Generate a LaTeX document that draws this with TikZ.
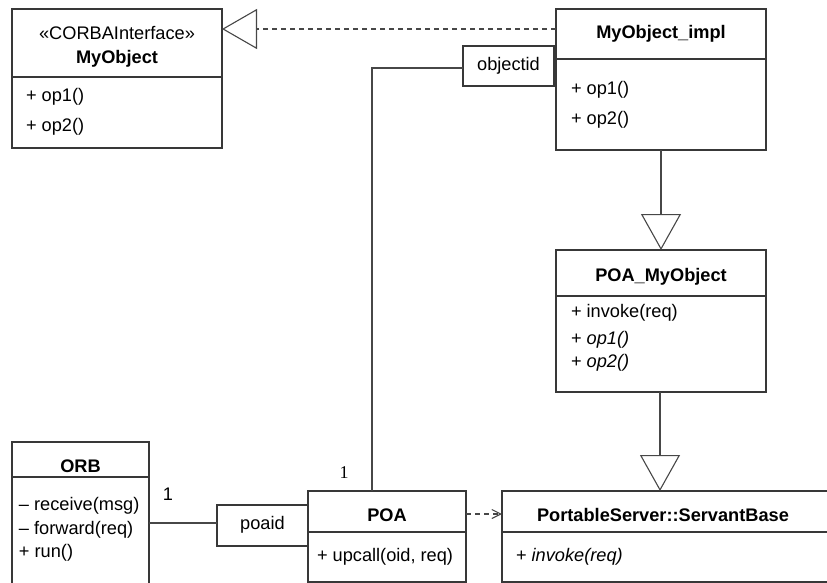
\documentclass[tikz,border=0pt]{standalone}
\usepackage{fontspec}
\setmainfont{Liberation Sans}
\newfontfamily\numfont{Liberation Serif}
\usetikzlibrary{arrows.meta}
\begin{document}
\begin{tikzpicture}[x=1pt,y=-1pt,
  font=\fontsize{18.2}{21}\selectfont,
  every node/.style={inner sep=0pt, outer sep=0pt},
  umlbox/.style={draw=black!78, line width=1.2pt, fill=white, rectangle, anchor=north west},
  sep/.style={draw=black!78, line width=1.2pt},
  lbl/.style={anchor=west},
  ttl/.style={font=\fontsize{18.2}{21}\selectfont\bfseries},
  conn/.style={draw=black!72, line width=1.1pt},
  gen/.style={conn, -{Triangle[open, length=36pt, width=40pt, line width=1.1pt]}},
  real/.style={conn, dash pattern=on 5pt off 4pt, -{Triangle[open, length=35pt, width=40pt, line width=1.1pt]}},
  dep/.style={conn, dash pattern=on 5pt off 4pt, -{Straight Barb[length=9pt, width=9pt, line width=1.1pt]}}]
\useasboundingbox (0,0) rectangle (827,583);

% interface MyObject
\node[umlbox, minimum width=210pt, minimum height=139pt] (iface) at (12,9) {};
\draw[sep] (12,77) -- (222,77);
\node (ifaceSt) at (117,33) {«CORBAInterface»};
\node[ttl] (ifaceT) at (117,59) {MyObject};
\node[lbl] (ifaceA) at (26,97) {+ op1()};
\node[lbl] (ifaceB) at (26,127) {+ op2()};

% MyObject_impl
\node[umlbox, minimum width=210pt, minimum height=141pt] (impl) at (556,9) {};
\draw[sep] (556,59) -- (766,59);
\node[ttl] (implT) at (661,34) {MyObject\_impl};
\node[lbl] (implA) at (571,90) {+ op1()};
\node[lbl] (implB) at (571,120) {+ op2()};

% qualifier objectid
\node[umlbox, minimum width=91pt, minimum height=40pt] (oid) at (463,46) {};
\node (oidT) at (508.5,66) {objectid};

% POA_MyObject
\node[umlbox, minimum width=210pt, minimum height=142pt] (skel) at (556,250) {};
\draw[sep] (556,296) -- (766,296);
\node[ttl] (skelT) at (661,277) {POA\_MyObject};
\node[lbl] (skelA) at (571,313) {+ invoke(req)};
\node[lbl] (skelB) at (571,340) {+ \textit{op1()}};
\node[lbl] (skelC) at (571,363) {+ \textit{op2()}};

% ORB
\node[umlbox, minimum width=137pt, minimum height=160pt] (orb) at (12,442) {};
\draw[sep] (12,477) -- (149,477);
\node[ttl] (orbT) at (80.5,466) {ORB};
\node[lbl] (orbA) at (19,506) {– receive(msg)};
\node[lbl] (orbB) at (19,530) {– forward(req)};
\node[lbl] (orbC) at (19,553) {+ run()};

% qualifier poaid
\node[umlbox, minimum width=91pt, minimum height=41pt] (pid) at (217,505) {};
\node (pidT) at (262.5,525) {poaid};

% POA
\node[umlbox, minimum width=158pt, minimum height=91pt] (poa) at (308,491) {};
\draw[sep] (308,532) -- (466,532);
\node[ttl] (poaT) at (387,515) {POA};
\node[lbl] (poaA) at (317,557) {+ upcall(oid, req)};

% PortableServer::ServantBase
\node[umlbox, minimum width=330pt, minimum height=91pt] (base) at (502,491) {};
\draw[sep] (502,532) -- (832,532);
\node[ttl] (baseT) at (663,515) {PortableServer::ServantBase};
\node[lbl] (baseA) at (516,557) {+ \textit{invoke(req)}};

% connectors
\coordinate (realS) at (impl.west |- 0,29);
\coordinate (realE) at (iface.east |- 0,29);
\draw[real] (realS) -- (realE);

\coordinate (bend) at (372,68);
\coordinate (poaTop) at (372,491);
\draw[conn] (oid.west |- bend) -- (bend) -- (poaTop);
\node[font=\fontsize{18}{21}\selectfont\numfont] (m1) at (344,473) {1};

\draw[gen] (impl.south -| 661,0) -- (skel.north -| 661,0);
\draw[gen] (skel.south -| 660,0) -- (660,491);

\coordinate (orbR) at (orb.east |- 0,523);
\draw[conn] (orbR) -- (pid.west |- orbR);
\node (m2) at (168,494) {1};

\coordinate (depS) at (poa.east |- 0,514);
\draw[dep] (depS) -- (base.west |- depS);
\end{tikzpicture}
\end{document}
